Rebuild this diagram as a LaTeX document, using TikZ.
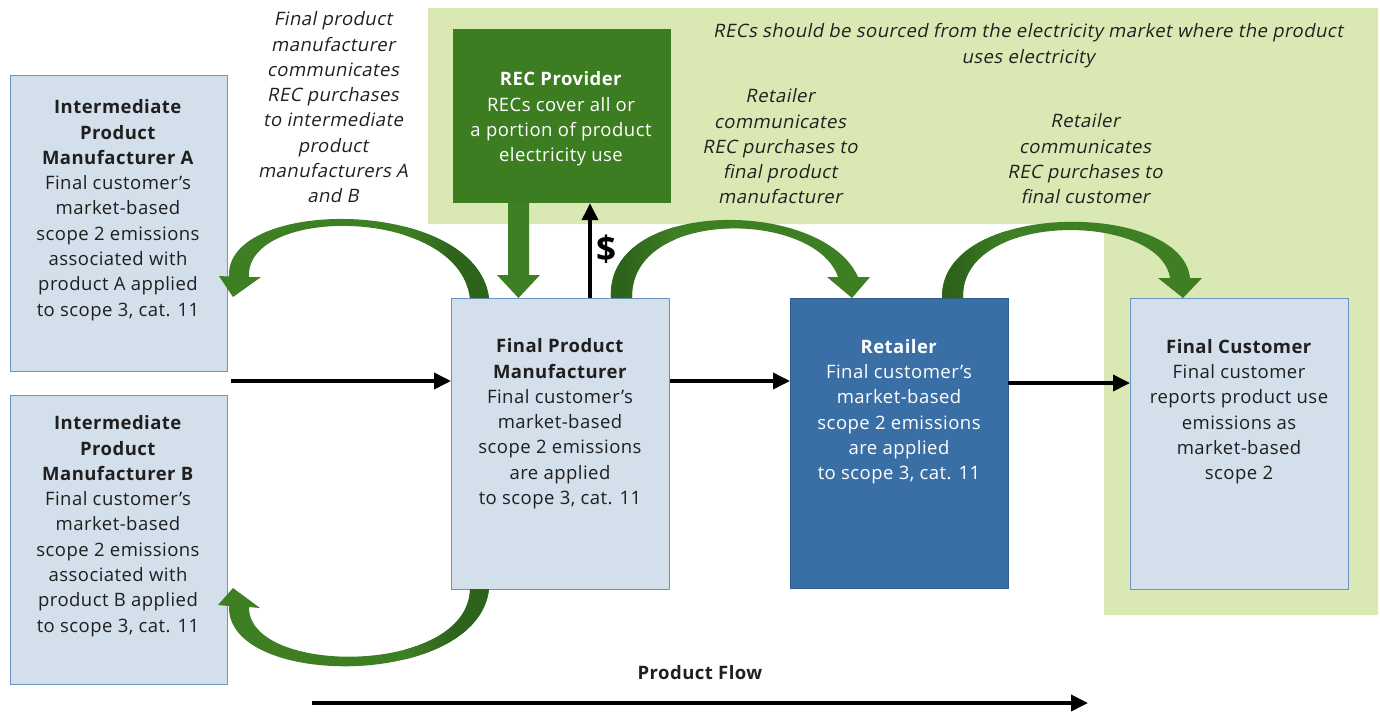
\documentclass[tikz,border=0pt]{standalone}
\usepackage{fontspec}
\setmainfont[LetterSpace=2.5]{Open Sans}
\newfontfamily\slantfont[LetterSpace=2.5,FakeSlant=0.2]{Open Sans}
\usetikzlibrary{calc,arrows.meta}
\definecolor{bgreen}{HTML}{DAE8B4}
\definecolor{recgreen}{HTML}{3C7D22}
\definecolor{ag}{HTML}{3E7F24}
\definecolor{agd}{HTML}{2E631B}
\definecolor{lblue}{HTML}{D3DFEB}
\definecolor{bborder}{HTML}{6D92C4}
\definecolor{dblue}{HTML}{3A6FA5}
\definecolor{dborder}{HTML}{2F5D8E}
\definecolor{txt}{HTML}{1F1F1F}
\newcommand\txtsize{\fontsize{18.5}{25.3}\selectfont}
\begin{document}
\begin{tikzpicture}[x=1pt,y=-1pt,
  box/.style={draw=bborder, line width=1.2pt, fill=lblue, inner sep=0pt, anchor=north west},
  lbl/.style={align=center, inner sep=0pt, anchor=north, text=txt, font=\txtsize},
  note/.style={lbl, font=\txtsize\slantfont},
  flow/.style={line width=3.6pt, -{Triangle[length=17pt,width=16pt]}},
  curved/.style={fill=ag}]
\useasboundingbox (0,0) rectangle (1380,713);

% green background band
\fill[bgreen] (428,8) -- (1378,8) -- (1378,615) -- (1104,615) -- (1104,224) -- (428,224) -- cycle;

% boxes
\node[box, minimum width=217pt, minimum height=296pt] (ia) at (10,75) {};
\node[box, minimum width=217pt, minimum height=289pt] (ib) at (10,395) {};
\node[box, minimum width=218pt, minimum height=291pt] (fpm) at (451,298) {};
\node[box, draw=dborder, fill=dblue, minimum width=218pt, minimum height=290pt] (ret) at (790,298) {};
\node[box, minimum width=218pt, minimum height=291pt] (fc) at (1130,298) {};
\node[box, draw=none, fill=recgreen, minimum width=218pt, minimum height=174pt] (rec) at (452,28) {};

% box texts
\node[lbl] (iat) at (118,99.5) {\textbf{Intermediate}\\\textbf{Product}\\\textbf{Manufacturer A}\\Final customer’s\\market-based\\scope 2 emissions\\associated with\\product A applied\\to scope 3, cat. 11};
\node[lbl] (ibt) at (118,415.5) {\textbf{Intermediate}\\\textbf{Product}\\\textbf{Manufacturer B}\\Final customer’s\\market-based\\scope 2 emissions\\associated with\\product B applied\\to scope 3, cat. 11};
\node[lbl] (fpmt) at (560,338.5) {\textbf{Final Product}\\\textbf{Manufacturer}\\Final customer’s\\market-based\\scope 2 emissions\\are applied\\to scope 3, cat. 11};
\node[lbl, text=white] (rett) at (899,339) {\textbf{Retailer}\\Final customer’s\\market-based\\scope 2 emissions\\are applied\\to scope 3, cat. 11};
\node[lbl] (fct) at (1239,339) {\textbf{Final Customer}\\Final customer\\reports product use\\emissions as\\market-based\\scope 2};
\node[lbl, text=white] (rect) at (561,71.5) {\textbf{REC Provider}\\RECs cover all or\\a portion of product\\electricity use};

% notes
\node[note] (n1) at (333,11.5) {Final product\\manufacturer\\communicates\\REC purchases\\to intermediate\\product\\manufacturers A\\and B};
\node[note] (n2) at (1028,23.5) {RECs should be sourced from the electricity market where the product\\uses electricity};
\node[note] (n3) at (780,88.5) {Retailer\\communicates\\REC purchases to\\final product\\manufacturer};
\node[note] (n4) at (1085,113.5) {Retailer\\communicates\\REC purchases to\\final customer};

% product flow arrows
\coordinate (inmid) at (231,381);
\draw[flow] (inmid) -- (inmid -| fpm.west);
\draw[flow] (fpm.east |- inmid) -- (ret.west |- inmid);
\coordinate (rmid) at (1008,383);
\draw[flow] (rmid) -- (rmid -| fc.west);
\coordinate (pf1) at (312,703);
\coordinate (pf2) at (1088,703);
\draw[flow] (pf1) -- (pf2);
\node[lbl, anchor=center, font=\txtsize\bfseries] (pft) at (700,673) {Product Flow};

% payment arrow
\coordinate (xd) at (590,0);
\draw[flow] (fpm.north -| xd) -- (rec.south -| xd);
\node[lbl, anchor=center, font=\fontsize{35}{40}\selectfont\bfseries, text=black] (dollar) at (606,249) {\$};

% REC supply arrow
\coordinate (xr) at (518.5,0);
\path (rec.south -| xr) coordinate (ra) (fpm.north -| xr) coordinate (rb);
\fill[ag] ($(ra)+(-10.5,0)$) -- ($(ra)+(10.5,0)$) -- ($(rb)+(10.5,-23)$) -- ($(rb)+(21.5,-23)$)
  -- (rb) -- ($(rb)+(-21.5,-23)$) -- ($(rb)+(-10.5,-23)$) -- cycle;

% curved arrow: final product manufacturer -> intermediate A
\def\arrowA{(470,298) .. controls (458,205.7) and (245,205.7) .. (249,277) -- (261,277) -- (233,297)
  -- (219,276) -- (229,276.5) .. controls (225,196.5) and (476,196.5) .. (489,298) -- cycle}
\fill[ag] \arrowA;
\begin{scope}\clip \arrowA;
  \shade[left color=ag, right color=agd] (405,190) rectangle (455,300);
  \fill[agd] (455,190) rectangle (500,300);
\end{scope}

% curved arrow: final product manufacturer -> retailer
\def\arrowB{(611,298) .. controls (605,197.7) and (823,197.7) .. (858,277) -- (870,277) -- (852,298)
  -- (827,277) -- (838,277) .. controls (815,210) and (630,208) .. (632,298) -- cycle}
\fill[ag] \arrowB;
\begin{scope}\clip \arrowB;
  \fill[agd] (600,190) rectangle (625,300);
  \shade[left color=agd, right color=ag] (625,190) rectangle (675,300);
\end{scope}

% curved arrow: retailer -> final customer
\def\arrowC{(942,298) .. controls (940,200) and (1182,200) .. (1190,278) -- (1202,278) -- (1183,298)
  -- (1158,278) -- (1170,278) .. controls (1160,212) and (960,210) .. (963,298) -- cycle}
\fill[ag] \arrowC;
\begin{scope}\clip \arrowC;
  \fill[agd] (930,190) rectangle (956,300);
  \shade[left color=agd, right color=ag] (956,190) rectangle (1006,300);
\end{scope}

% curved arrow: final product manufacturer -> intermediate B
\def\arrowD{(489,589) .. controls (478,689) and (226,689) .. (229,606) -- (218,605) -- (233,588)
  -- (260,608) -- (249,607) .. controls (248,676) and (468,676) .. (470,589) -- cycle}
\fill[ag] \arrowD;
\begin{scope}\clip \arrowD;
  \shade[left color=ag, right color=agd] (405,585) rectangle (455,700);
  \fill[agd] (455,585) rectangle (500,700);
\end{scope}
\end{tikzpicture}
\end{document}
